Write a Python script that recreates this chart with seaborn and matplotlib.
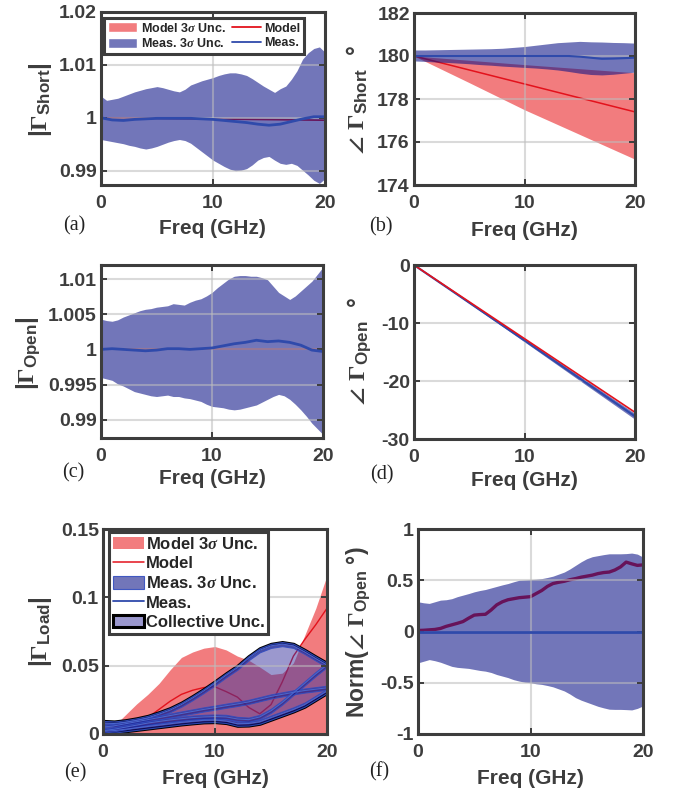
import numpy as np
import pandas as pd
import matplotlib
matplotlib.use("Agg")
import matplotlib.pyplot as plt
import seaborn as sns
from matplotlib.patches import Patch
from matplotlib.lines import Line2D

# ---------------------------------------------------------------- data
freq_half = np.arange(0, 20.01, 0.5)      # 41 points, GHz
freq_one = np.arange(0, 20.01, 1.0)       # 21 points, GHz
freq_five = [0, 5, 10, 15, 20]
freq_ends = [0, 10, 20]

# (a) |Gamma_Short|
short_mag_meas_hi = [1.0041, 1.0033, 1.0035, 1.0037, 1.0041, 1.0045, 1.0049, 1.0052, 1.0055, 1.0057,
                     1.0059, 1.0057, 1.0054, 1.0051, 1.0049, 1.0054, 1.0062, 1.0066, 1.0070, 1.0073,
                     1.0076, 1.0080, 1.0083, 1.0085, 1.0085, 1.0083, 1.0080, 1.0074, 1.0067, 1.0060,
                     1.0054, 1.0048, 1.0055, 1.0060, 1.0073, 1.0089, 1.0111, 1.0123, 1.0131, 1.0134,
                     1.0124]
short_mag_meas_lo = [0.9959, 0.9957, 0.9955, 0.9953, 0.9951, 0.9948, 0.9946, 0.9943, 0.9941, 0.9943,
                     0.9946, 0.9950, 0.9954, 0.9957, 0.9959, 0.9957, 0.9952, 0.9944, 0.9936, 0.9928,
                     0.9920, 0.9914, 0.9908, 0.9903, 0.9900, 0.9901, 0.9904, 0.9911, 0.9920, 0.9925,
                     0.9927, 0.9920, 0.9914, 0.9912, 0.9914, 0.9910, 0.9901, 0.9892, 0.9882, 0.9876,
                     0.9885]
short_mag_meas = [1.0000, 0.9996, 0.9995, 0.9997, 0.9998, 0.9999, 0.9999, 0.9999, 0.9999, 0.9998,
                  0.9997, 0.9995, 0.9993, 0.9991, 0.9988, 0.9986, 0.9988, 0.9993, 0.9998, 1.0002,
                  1.0002]
short_mag_model = [1.0000, 0.99978, 0.99955]

# (b) angle Gamma_Short (deg)
short_ang_meas_hi = [180.28, 180.28, 180.29, 180.30, 180.31, 180.32, 180.33, 180.34, 180.36, 180.40,
                     180.44, 180.50, 180.56, 180.62, 180.65, 180.68, 180.66, 180.65, 180.63, 180.62,
                     180.60]
short_ang_meas_lo = [179.77, 179.75, 179.72, 179.70, 179.67, 179.64, 179.60, 179.57, 179.53, 179.50,
                     179.47, 179.44, 179.40, 179.35, 179.28, 179.20, 179.14, 179.12, 179.15, 179.20,
                     179.25]
short_ang_meas = [180.00, 180.00, 180.00, 180.00, 180.00, 180.00, 180.00, 180.00, 180.00, 180.00,
                  180.00, 180.00, 180.00, 180.00, 180.00, 179.97, 179.92, 179.87, 179.88, 179.90,
                  179.92]
short_ang_model = [180.00, 179.35, 178.70, 178.05, 177.40]
short_ang_model_hi = [180.00, 179.80, 179.60, 179.41, 179.22]
short_ang_model_lo = [180.00, 178.76, 177.50, 176.35, 175.20]

# (c) |Gamma_Open|
open_mag_meas_hi = [1.0043, 1.0041, 1.0040, 1.0042, 1.0046, 1.0049, 1.0052, 1.0055, 1.0057, 1.0058,
                    1.0060, 1.0061, 1.0062, 1.0065, 1.0064, 1.0063, 1.0067, 1.0070, 1.0072, 1.0076,
                    1.0081, 1.0088, 1.0094, 1.0100, 1.0104, 1.0105, 1.0105, 1.0104, 1.0104, 1.0102,
                    1.0099, 1.0090, 1.0081, 1.0076, 1.0071, 1.0076, 1.0083, 1.0090, 1.0097, 1.0107,
                    1.0117]
open_mag_meas_lo = [0.9960, 0.9958, 0.9956, 0.9951, 0.9948, 0.9944, 0.9940, 0.9938, 0.9936, 0.9934,
                    0.9933, 0.9934, 0.9935, 0.9933, 0.9933, 0.9931, 0.9930, 0.9928, 0.9926, 0.9922,
                    0.9919, 0.9918, 0.9917, 0.9915, 0.9914, 0.9915, 0.9917, 0.9919, 0.9921, 0.9925,
                    0.9929, 0.9933, 0.9936, 0.9934, 0.9929, 0.9922, 0.9914, 0.9905, 0.9895, 0.9887,
                    0.9879]
open_mag_meas = [1.0000, 1.0001, 1.0000, 0.9999, 0.9998, 0.9999, 1.0001, 1.0001, 1.0000, 1.0001,
                 1.0002, 1.0005, 1.0008, 1.0010, 1.0013, 1.0011, 1.0012, 1.0010, 1.0006, 0.9999,
                 0.9997]
open_mag_model = [1.0000, 1.0000, 1.0000]

# (d) angle Gamma_Open (deg)
open_ang_model = [0.0, -6.35, -12.70, -19.05, -25.40]
open_ang_meas = [0.0, -6.50, -13.00, -19.55, -26.10]
open_ang_meas_hi = [0.0, -6.37, -12.75, -19.17, -25.60]
open_ang_meas_lo = [0.0, -6.63, -13.25, -19.93, -26.60]

# (e) |Gamma_Load|
load_model_hi = [0.0, 0.006, 0.014, 0.022, 0.029, 0.037, 0.047, 0.056, 0.060, 0.0628,
                 0.064, 0.0615, 0.057, 0.054, 0.049, 0.0435, 0.0445, 0.052, 0.072, 0.092,
                 0.116]
load_model = [0.0, 0.0015, 0.004, 0.007, 0.012, 0.018, 0.024, 0.029, 0.032, 0.034,
              0.0345, 0.031, 0.027, 0.0195, 0.0148, 0.0215, 0.038, 0.057, 0.069, 0.080,
              0.092]
load_meas_a = [0.0081, 0.0077, 0.0086, 0.0100, 0.0118, 0.0145, 0.0175, 0.0215, 0.0263, 0.0315,
               0.0371, 0.0430, 0.0485, 0.0555, 0.0613, 0.0645, 0.0658, 0.0645, 0.0601, 0.0552,
               0.0505]
load_meas_b = [0.0050, 0.0060, 0.0075, 0.0090, 0.0105, 0.0120, 0.0135, 0.0150, 0.0165, 0.0180,
               0.0193, 0.0207, 0.0220, 0.0235, 0.0255, 0.0275, 0.0290, 0.0305, 0.0318, 0.0328,
               0.0338]
load_meas_c = [0.0020, 0.0025, 0.0035, 0.0045, 0.0055, 0.0065, 0.0075, 0.0085, 0.0093, 0.0100,
               0.0102, 0.0095, 0.0075, 0.0077, 0.0090, 0.0120, 0.0150, 0.0180, 0.0215, 0.0265,
               0.0315]
load_meas_d = [0.0025, 0.0035, 0.0050, 0.0065, 0.0080, 0.0092, 0.0103, 0.0112, 0.0120, 0.0125,
               0.0128, 0.0125, 0.0110, 0.0105, 0.0125, 0.0170, 0.0230, 0.0300, 0.0370, 0.0440,
               0.0505]
load_meas_unc = 0.0015

# (f) normalised angle Gamma_Open
norm_meas_hi = [0.290, 0.280, 0.274, 0.290, 0.306, 0.310, 0.320, 0.340, 0.355, 0.370,
                0.387, 0.400, 0.410, 0.425, 0.440, 0.455, 0.468, 0.485, 0.500, 0.503,
                0.506, 0.510, 0.516, 0.527, 0.540, 0.560, 0.580, 0.610, 0.645, 0.680,
                0.710, 0.730, 0.740, 0.750, 0.758, 0.758, 0.758, 0.760, 0.765, 0.755,
                0.726]
norm_meas_lo = [-0.306, -0.290, -0.274, -0.285, -0.300, -0.320, -0.340, -0.350, -0.355, -0.360,
                -0.370, -0.380, -0.387, -0.400, -0.420, -0.435, -0.450, -0.470, -0.484, -0.495,
                -0.500, -0.510, -0.516, -0.527, -0.540, -0.560, -0.580, -0.610, -0.645, -0.670,
                -0.690, -0.710, -0.730, -0.745, -0.758, -0.760, -0.760, -0.762, -0.765, -0.750,
                -0.726]
norm_model = [0.010, 0.012, 0.016, 0.020, 0.030, 0.050, 0.065, 0.080, 0.097, 0.130,
              0.160, 0.165, 0.168, 0.210, 0.260, 0.290, 0.310, 0.320, 0.330, 0.335,
              0.340, 0.370, 0.400, 0.440, 0.468, 0.480, 0.490, 0.505, 0.516, 0.530,
              0.540, 0.550, 0.565, 0.575, 0.580, 0.600, 0.630, 0.677, 0.660, 0.645,
              0.650]
norm_meas = [0.0, 0.0, 0.0]

x_ticks = [0, 10, 20]
x_tick_labels = ["0", "10", "20"]

# ---------------------------------------------------------------- style
sns.set_theme(style="white")
plt.rcParams["font.family"] = ["Liberation Sans", "DejaVu Sans"]
plt.rcParams["font.weight"] = "bold"
plt.rcParams["mathtext.fontset"] = "custom"
plt.rcParams["mathtext.rm"] = "Liberation Serif"
plt.rcParams["mathtext.it"] = "Liberation Serif:italic"
plt.rcParams["mathtext.bf"] = "Liberation Sans:bold"
plt.rcParams["mathtext.fallback"] = "stix"

DARK = "#3d3d3d"
MODEL_FILL = "#f27c7e"
MODEL_LINE = "#e3121c"
MEAS_FILL = (0.05, 0.08, 0.53, 0.58)
MEAS_LINE = "#2f4aab"
COLL_FILL = (0.22, 0.2, 0.62, 0.5)
GRID = "#bdbdbd"

W, H = 678, 791
fig = plt.figure(figsize=(W / 100, H / 100), dpi=100)


def px_axes(left, top, right, bottom):
    return fig.add_axes([left / W, 1 - bottom / H, (right - left) / W, (bottom - top) / H])


def fig_text(x, y, s, **kw):
    fig.text(x / W, 1 - y / H, s, ha="center", va="center", **kw)


def style_axes(ax, ylim, yticks, ylabels):
    ax.set_xlim(0, 20)
    ax.set_ylim(*ylim)
    ax.set_xticks(x_ticks)
    ax.set_xticklabels(x_tick_labels)
    ax.set_yticks(yticks)
    ax.set_yticklabels(ylabels)
    ax.set_xlabel("")
    ax.set_ylabel("")
    ax.grid(True, color=GRID, alpha=0.55, linewidth=1.5)
    ax.set_axisbelow(False)
    for sp in ax.spines.values():
        sp.set_color(DARK)
        sp.set_linewidth(2.2)
        sp.set_zorder(6)
    ax.tick_params(direction="in", length=4, width=1.4, colors=DARK, labelsize=14,
                   top=True, right=True, bottom=True, left=True)
    ax.tick_params(axis="x", pad=7)
    ax.tick_params(axis="y", pad=3)


def line(ax, x, y, color, lw, z=3):
    sns.lineplot(x=np.asarray(x, float), y=np.asarray(y, float), ax=ax, color=color,
                 linewidth=lw, zorder=z, legend=False)


def legend_frame(leg):
    fr = leg.get_frame()
    fr.set_edgecolor(DARK)
    fr.set_linewidth(2.2)
    fr.set_facecolor("white")
    fr.set_alpha(1)


# ---------------------------------------------------------------- (a)
ax = px_axes(101, 12, 325, 185)
line(ax, freq_ends, short_mag_model, MODEL_LINE, 1.2, z=2)
ax.fill_between(freq_half, short_mag_meas_lo, short_mag_meas_hi, color=MEAS_FILL, linewidth=0, zorder=2.2)
line(ax, freq_one, short_mag_meas, MEAS_LINE, 2.0)
style_axes(ax, (0.9873, 1.02), [0.99, 1.0, 1.01, 1.02], ["0.99", "1", "1.01", "1.02"])
handles = [Patch(facecolor=MODEL_FILL), Patch(facecolor=MEAS_FILL),
           Line2D([], [], color=MODEL_LINE, lw=1.3), Line2D([], [], color=MEAS_LINE, lw=1.3)]
labels = [r"Model 3$\sigma$ Unc.", r"Meas. 3$\sigma$ Unc.", "Model", "Meas."]
leg = ax.legend(handles, labels, ncol=2, loc="upper left", bbox_to_anchor=(0.015, 0.966),
                borderaxespad=0, fontsize=9, fancybox=False, framealpha=1,
                handlelength=2.3, handleheight=0.85, handletextpad=0.3, labelspacing=0.18,
                columnspacing=0.5, borderpad=0.3)
legend_frame(leg)

# ---------------------------------------------------------------- (b)
ax = px_axes(414, 13, 635, 185)
ax.fill_between(freq_five, short_ang_model_lo, short_ang_model_hi, color=MODEL_FILL, linewidth=0, zorder=1)
line(ax, freq_five, short_ang_model, MODEL_LINE, 1.1, z=2)
ax.fill_between(freq_one, short_ang_meas_lo, short_ang_meas_hi, color=MEAS_FILL, linewidth=0, zorder=2.2)
line(ax, freq_one, short_ang_meas, MEAS_LINE, 1.5)
style_axes(ax, (174, 182), [174, 176, 178, 180, 182], ["174", "176", "178", "180", "182"])

# ---------------------------------------------------------------- (c)
ax = px_axes(101, 265, 323, 438)
line(ax, freq_ends, open_mag_model, MODEL_LINE, 1.2, z=2)
ax.fill_between(freq_half, open_mag_meas_lo, open_mag_meas_hi, color=MEAS_FILL, linewidth=0, zorder=2.2)
line(ax, freq_one, open_mag_meas, MEAS_LINE, 2.0)
style_axes(ax, (0.9874, 1.012), [0.99, 0.995, 1.0, 1.005, 1.01],
           ["0.99", "0.995", "1", "1.005", "1.01"])

# ---------------------------------------------------------------- (d)
ax = px_axes(414, 265, 635, 439)
ax.fill_between(freq_five, open_ang_meas_lo, open_ang_meas_hi, color=MEAS_FILL, linewidth=0, zorder=2.2)
line(ax, freq_five, open_ang_meas, MEAS_LINE, 1.5)
line(ax, freq_five, open_ang_model, MODEL_LINE, 1.2, z=3.2)
style_axes(ax, (-30, 0), [-30, -20, -10, 0], ["-30", "-20", "-10", "0"])

# ---------------------------------------------------------------- (e)
ax = px_axes(103, 529, 327, 734)
h_model_fill = ax.fill_between(freq_one, 0, load_model_hi, color=MODEL_FILL, linewidth=0, zorder=1)
line(ax, freq_one, load_model, MODEL_LINE, 1.0, z=2)
meas_curves = [load_meas_a, load_meas_b, load_meas_c, load_meas_d]
stack = np.array(meas_curves)
env_hi = stack.max(axis=0) + load_meas_unc
env_lo = stack.min(axis=0) - load_meas_unc
h_coll = ax.fill_between(freq_one, env_lo, env_hi, facecolor=COLL_FILL, edgecolor="black",
                         linewidth=2.2, zorder=2.1)
h_band = None
for curve in meas_curves:
    c = np.asarray(curve)
    band = ax.fill_between(freq_one, c - load_meas_unc, c + load_meas_unc, facecolor=MEAS_FILL,
                           edgecolor=(0.2, 0.3, 0.75, 0.9), linewidth=0.8, zorder=2.3)
    if h_band is None:
        h_band = band
for curve in meas_curves:
    line(ax, freq_one, curve, "#4a66cc", 0.8, z=2.4)
h_meas_line = Line2D([], [], color=MEAS_LINE, lw=1.3)
style_axes(ax, (0, 0.15), [0, 0.05, 0.1, 0.15], ["0", "0.05", "0.1", "0.15"])
leg = ax.legend([h_model_fill, Line2D([], [], color=MODEL_LINE, lw=1.1), h_band, h_meas_line, h_coll],
                [r"Model 3$\sigma$ Unc.", "Model", r"Meas. 3$\sigma$ Unc.", "Meas.", "Collective Unc."],
                loc="upper left", bbox_to_anchor=(0.027, 0.985), borderaxespad=0, fontsize=12,
                fancybox=False, framealpha=1, handlelength=1.85, handleheight=0.8,
                handletextpad=0.15, labelspacing=0.25, borderpad=0.22)
legend_frame(leg)

# ---------------------------------------------------------------- (f)
ax = px_axes(418, 529, 643, 734)
line(ax, freq_half, norm_model, MODEL_LINE, 2.4, z=2)
ax.fill_between(freq_half, norm_meas_lo, norm_meas_hi, color=MEAS_FILL, linewidth=0, zorder=2.2)
line(ax, freq_ends, norm_meas, MEAS_LINE, 2.0)
style_axes(ax, (-1, 1), [-1, -0.5, 0, 0.5, 1], ["-1", "-0.5", "0", "0.5", "1"])

# ---------------------------------------------------------------- labels
for x, y in [(212, 228), (524, 230), (212, 478), (524, 481), (215, 778), (530, 778)]:
    fig_text(x, y, "Freq (GHz)", fontsize=15, color=DARK, fontweight="bold")

ylab_kw = dict(fontsize=17.5, color=DARK, rotation=90)
fig_text(40, 100, r"$\mathbf{|}\Gamma_{\mathbf{Short}}\mathbf{|}$", **ylab_kw)
fig_text(357, 100, r"$\angle\ \Gamma_{\mathbf{Short}}$  °", **ylab_kw)
fig_text(28, 353, r"$\mathbf{|}\Gamma_{\mathbf{Open}}\mathbf{|}$", **ylab_kw)
fig_text(359, 351, r"$\angle\ \Gamma_{\mathbf{Open}}$  °", **ylab_kw)
fig_text(40, 632, r"$\mathbf{|}\Gamma_{\mathbf{Load}}\mathbf{|}$", **ylab_kw)
fig_text(358, 632, r"Norm($\angle\ \Gamma_{\mathbf{Open}}$ °)", fontsize=16.5, color=DARK, rotation=90)

letter_kw = dict(fontsize=14.5, color="#222222", family="Liberation Serif", fontweight="normal")
for x, y, s in [(74, 226, "(a)"), (381, 227, "(b)"), (73, 473, "(c)"),
                (382, 475, "(d)"), (75, 773, "(e)"), (379, 772, "(f)")]:
    fig_text(x, y, s, **letter_kw)

fig.savefig("out.png", dpi=100)
